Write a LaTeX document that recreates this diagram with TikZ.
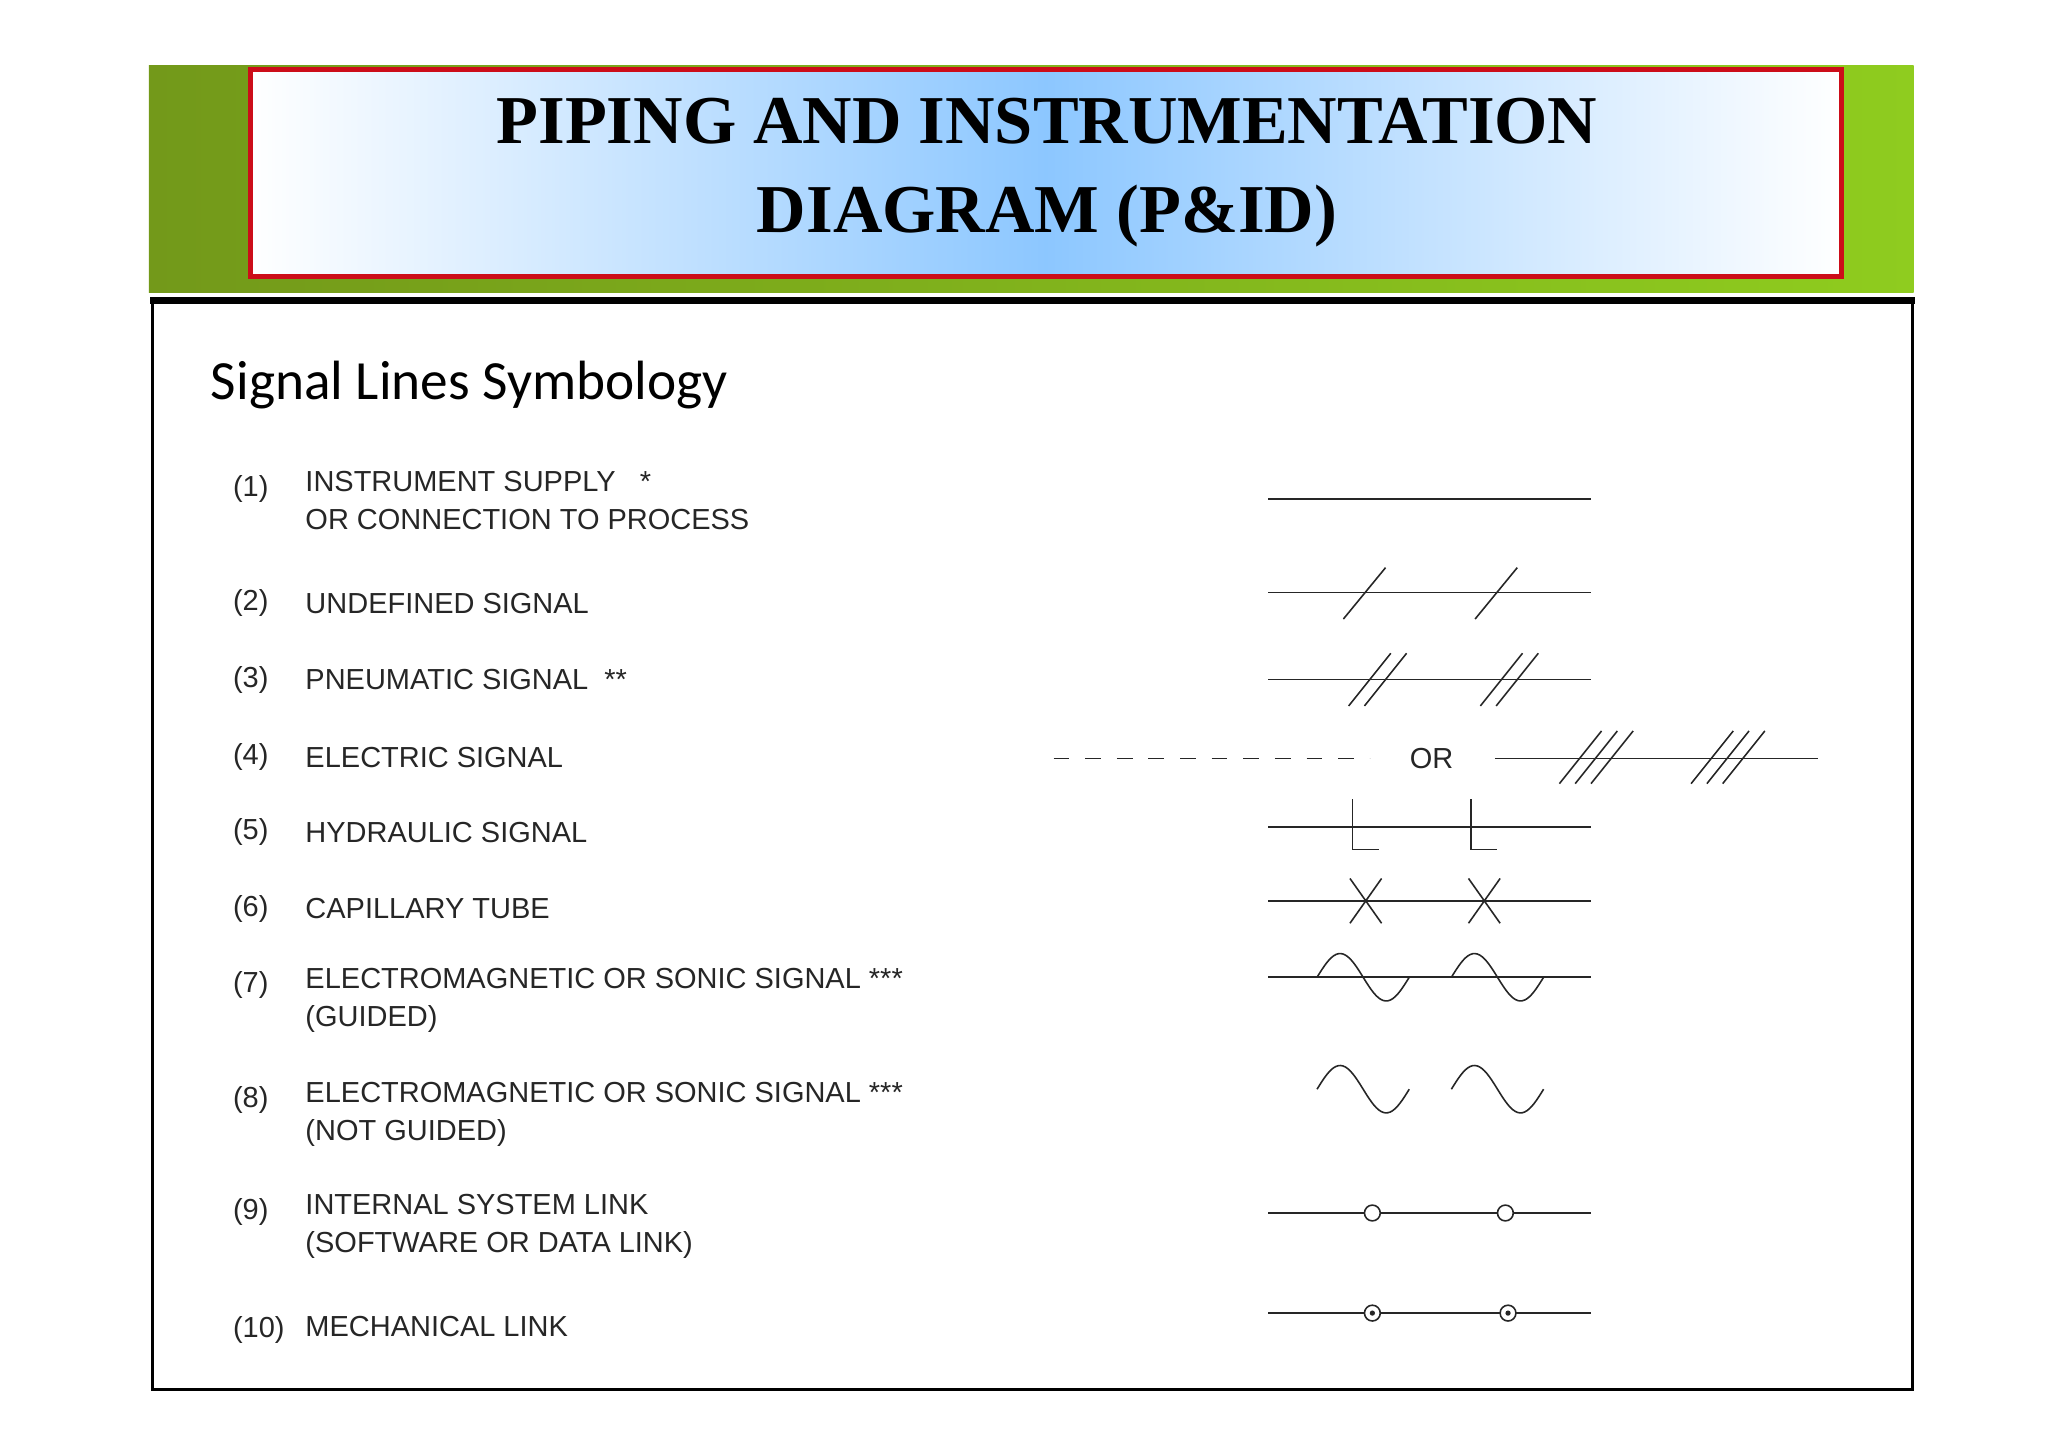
\documentclass[tikz,border=0pt]{standalone}
\usepackage{fontspec}
\setmainfont{Liberation Serif}
\setsansfont{Liberation Sans}
\newfontfamily\headfont{Carlito}
\definecolor{darkgreen}{rgb}{0.45, 0.60, 0.10}
\definecolor{lightgreen}{rgb}{0.56, 0.80, 0.12}
\definecolor{skyblue}{rgb}{0.55, 0.78, 1.00}
\definecolor{framered}{rgb}{0.80, 0.05, 0.10}
\definecolor{inkgray}{rgb}{0.15, 0.15, 0.15}
\tikzset{
  label/.style={anchor=west, inner sep=0.75pt, font=\sffamily\fontsize{22}{29}\selectfont, text=inkgray},
  sig/.style={draw=inkgray, line width=1.2pt},
  tick/.style={draw=inkgray, line width=1.2pt}
}
\begin{document}
\begin{tikzpicture}[x=1pt,y=1pt,yscale=-1,xscale=1]
		\useasboundingbox (0,0) rectangle (1555,1100);
		\fill[white] (0,0) rectangle (1555,1100);

		% Green header band with the red framed title box
		\shade[left color=darkgreen, right color=lightgreen] (113,50) rectangle (1453,222);
		\shade[left color=white, right color=white, middle color=skyblue] (190,53) rectangle (1398,210);
		\draw[framered, line width=4pt] (190,53) rectangle (1398,210);
		\node[font=\bfseries\fontsize{52}{68}\selectfont, align=center] (title) at (795,131) {PIPING AND INSTRUMENTATION\\DIAGRAM (P\&ID)};

		% Black frame of the slide body
		\draw[black, line width=2.5pt] (116,228) rectangle (1452,1055);
		\draw[black, line width=5pt] (114,228) -- (1454,228);

		% Heading
		\node[anchor=west, inner sep=0pt, font=\headfont\fontsize{42}{50}\selectfont] (heading) at (160,292) {Signal Lines Symbology};

		% Numbers and labels
		\foreach \n/\y in {1/371,2/458,3/516,4/575,5/632,6/690,7/748,8/835,9/920,10/1010}
			\node[label] (num\n) at (176,\y) {(\n)};
		\node[label, align=left, anchor=north west] (lab1) at (231,357) {INSTRUMENT SUPPLY \ \ *\\OR CONNECTION TO PROCESS};
		\node[label] (lab2) at (231,458) {UNDEFINED SIGNAL};
		\node[label] (lab3) at (231,516) {PNEUMATIC SIGNAL \ **};
		\node[label] (lab4) at (231,575) {ELECTRIC SIGNAL};
		\node[label] (lab5) at (231,632) {HYDRAULIC SIGNAL};
		\node[label] (lab6) at (231,690) {CAPILLARY TUBE};
		\node[label, align=left, anchor=north west] (lab7) at (231,734) {ELECTROMAGNETIC OR SONIC SIGNAL ***\\(GUIDED)};
		\node[label, align=left, anchor=north west] (lab8) at (231,821) {ELECTROMAGNETIC OR SONIC SIGNAL ***\\(NOT GUIDED)};
		\node[label, align=left, anchor=north west] (lab9) at (231,906) {INTERNAL SYSTEM LINK\\(SOFTWARE OR DATA LINK)};
		\node[label] (lab10) at (231,1007) {MECHANICAL LINK};

		% (1) plain line
		\draw[sig] (963,379) -- (1208,379);

		% (2) single slashes
		\draw[sig] (963,450) -- (1208,450);
		\foreach \x in {1036,1136}
			\draw[tick] (\x-16,470) -- (\x+16,431);

		% (3) double slashes
		\draw[sig] (963,516) -- (1208,516);
		\foreach \x in {1040,1140}
			\foreach \d in {0,12}
				\draw[tick] (\x+\d-16,536) -- (\x+\d+16,496);

		% (4) dashed line, OR, triple slashes
		\draw[sig, dash pattern=on 12pt off 12pt] (800,576) -- (1040,576);
		\node[label, anchor=center] (or) at (1087,576) {OR};
		\draw[sig] (1135,576) -- (1380,576);
		\foreach \x in {1200,1300}
			\foreach \d in {0,12,24}
				\draw[tick] (\x+\d-16,595) -- (\x+\d+16,555);

		% (5) L marks
		\draw[sig] (963,628) -- (1208,628);
		\foreach \x in {1027,1117}
			\draw[tick] (\x,607) -- (\x,645) -- (\x+20,645);

		% (6) crosses
		\draw[sig] (963,684) -- (1208,684);
		\foreach \x in {1037,1127}
			\draw[tick] (\x-12,667) -- (\x+12,701) (\x-12,701) -- (\x+12,667);

		% (7) guided waves
		\draw[sig] (963,742) -- (1208,742);
		\draw[tick] plot[domain=0:360, samples=40] ({1000+\x/360*70}, {742-18*sin(\x)});
		\draw[tick] plot[domain=0:360, samples=40] ({1102+\x/360*70}, {742-18*sin(\x)});

		% (8) free waves
		\draw[tick] plot[domain=0:360, samples=40] ({1000+\x/360*70}, {827-18*sin(\x)});
		\draw[tick] plot[domain=0:360, samples=40] ({1102+\x/360*70}, {827-18*sin(\x)});

		% (9) open circles
		\draw[sig] (963,921) -- (1036,921) (1048,921) -- (1137,921) (1149,921) -- (1208,921);
		\foreach \x in {1042,1143}
			\draw[tick] (\x,921) circle (6);

		% (10) circles with dots
		\draw[sig] (963,997) -- (1036,997) (1048,997) -- (1139,997) (1151,997) -- (1208,997);
		\foreach \x in {1042,1145}{
			\draw[tick] (\x,997) circle (6);
			\fill[inkgray] (\x,997) circle (2);
		}
	\end{tikzpicture}
\end{document}
